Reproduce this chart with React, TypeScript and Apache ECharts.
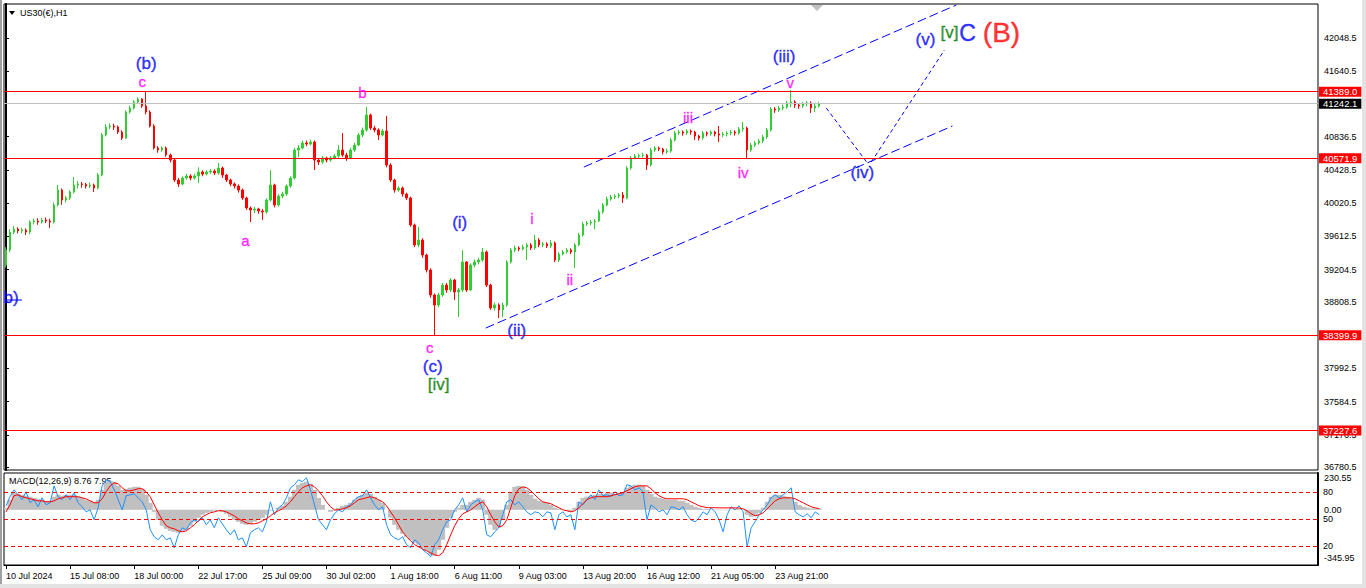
import React, { useEffect, useRef } from 'react';
import * as echarts from 'echarts';

// ---------- data ----------
const timeLabels = ['10 Jul 2024', '15 Jul 08:00', '18 Jul 00:00', '22 Jul 17:00', '25 Jul 09:00', '30 Jul 02:00', '1 Aug 18:00', '6 Aug 11:00', '9 Aug 03:00', '13 Aug 20:00', '16 Aug 12:00', '21 Aug 05:00', '23 Aug 21:00'];
const SLOTS = 328;
const LABEL_EVERY = 16;

const priceTicks = [42048.5, 41640.5, 40836.5, 40428.5, 40020.5, 39612.5, 39204.5, 38808.5, 37992.5, 37584.5, 37176.5, 36780.5];
const priceMin = 36744;
const priceMax = 42466;

const levelPrices = [41389.0, 40571.9, 38399.9, 37227.6];
const bidPrice = 41242.1;

// [open, close, low, high]
const candles = [
  [39261, 39445, 39230, 39480], [39445, 39666, 39420, 39700], [39666, 39703, 39640, 39740], [39703, 39679, 39650, 39725], [39679, 39691, 39650, 39720],
  [39691, 39666, 39629, 39710], [39666, 39789, 39640, 39810], [39789, 39801, 39760, 39830], [39801, 39789, 39755, 39835], [39789, 39814, 39770, 39840],
  [39814, 39801, 39775, 39845], [39801, 39789, 39715, 39830], [39789, 39998, 39770, 40030], [39998, 40182, 39980, 40243], [40182, 40059, 40000, 40200],
  [40059, 40084, 40030, 40110], [40084, 40157, 40060, 40180], [40157, 40243, 40140, 40342], [40243, 40256, 40200, 40290], [40256, 40250, 40210, 40280],
  [40250, 40231, 40200, 40270], [40231, 40243, 40205, 40275], [40243, 40206, 40157, 40260], [40206, 40366, 40190, 40390], [40366, 40857, 40350, 40880],
  [40857, 40956, 40840, 40990], [40956, 40968, 40930, 41000], [40968, 40956, 40920, 40995], [40956, 40894, 40870, 40975], [40894, 40820, 40796, 40915],
  [40820, 41140, 40810, 41160], [41140, 41189, 41120, 41220], [41189, 41262, 41170, 41285], [41262, 41299, 41240, 41320], [41299, 41213, 41190, 41310],
  [41213, 41140, 41110, 41389], [41140, 40968, 40950, 41160], [40968, 40698, 40680, 40990], [40698, 40673, 40640, 40720], [40673, 40698, 40650, 40720],
  [40698, 40612, 40590, 40715], [40612, 40550, 40520, 40630], [40550, 40305, 40280, 40565], [40305, 40256, 40220, 40330], [40256, 40329, 40240, 40350],
  [40329, 40354, 40310, 40380], [40354, 40329, 40300, 40375], [40329, 40354, 40310, 40380], [40354, 40403, 40268, 40460], [40403, 40378, 40350, 40425],
  [40378, 40403, 40360, 40425], [40403, 40415, 40380, 40440], [40415, 40391, 40365, 40435], [40391, 40452, 40370, 40513], [40452, 40366, 40330, 40470],
  [40366, 40305, 40280, 40380], [40305, 40256, 40230, 40320], [40256, 40231, 40200, 40275], [40231, 40182, 40150, 40250], [40182, 40084, 40060, 40200],
  [40084, 39961, 39940, 40100], [39961, 39936, 39789, 39980], [39936, 39949, 39900, 39975], [39949, 39924, 39890, 39965], [39924, 39912, 39814, 39950],
  [39912, 40059, 39890, 40080], [40059, 40243, 40040, 40428], [40243, 39998, 39970, 40260], [39998, 40108, 39980, 40130], [40108, 40133, 40080, 40160],
  [40133, 40231, 40110, 40250], [40231, 40329, 40210, 40350], [40329, 40673, 40310, 40700], [40673, 40698, 40587, 40734], [40698, 40759, 40680, 40790],
  [40759, 40747, 40720, 40790], [40747, 40771, 40730, 40800], [40771, 40550, 40428, 40790], [40550, 40526, 40490, 40570], [40526, 40575, 40500, 40600],
  [40575, 40550, 40520, 40590], [40550, 40575, 40530, 40600], [40575, 40599, 40560, 40625], [40599, 40673, 40580, 40734], [40673, 40612, 40590, 40882],
  [40612, 40575, 40540, 40640], [40575, 40673, 40560, 40700], [40673, 40734, 40650, 40760], [40734, 40857, 40720, 40880], [40857, 40919, 40830, 40950],
  [40919, 41103, 40900, 41201], [41103, 40943, 40920, 41120], [40943, 40919, 40890, 40970], [40919, 40857, 40796, 40940], [40857, 40906, 40840, 40930],
  [40906, 40489, 40460, 41091], [40489, 40305, 40280, 40510], [40305, 40182, 40150, 40320], [40182, 40206, 40160, 40230], [40206, 40133, 40100, 40225],
  [40133, 40084, 40059, 40150], [40084, 39752, 39730, 40100], [39752, 39507, 39480, 39770], [39507, 39568, 39480, 39728], [39568, 39384, 39350, 39590],
  [39384, 39200, 39170, 39400], [39200, 38893, 38860, 39220], [38893, 38770, 38399.9, 38910], [38770, 38893, 38740, 38920], [38893, 39015, 38870, 39040],
  [39015, 38954, 38920, 39040], [38954, 39077, 38930, 39100], [39077, 38930, 38831, 39090], [38930, 38954, 38623, 38980], [38954, 39298, 38930, 39445],
  [39298, 38954, 38930, 39310], [38954, 39261, 38940, 39280], [39261, 39298, 39230, 39330], [39298, 39322, 39270, 39350], [39322, 39421, 39300, 39470],
  [39421, 39015, 38990, 39440], [39015, 38733, 38710, 39030], [38733, 38770, 38700, 38800], [38770, 38709, 38610, 38790], [38709, 38770, 38620, 38800],
  [38770, 39298, 38750, 39320], [39298, 39445, 39280, 39470], [39445, 39470, 39420, 39500], [39470, 39457, 39430, 39490], [39457, 39482, 39440, 39510],
  [39482, 39507, 39322, 39530], [39507, 39470, 39445, 39530], [39470, 39568, 39450, 39629], [39568, 39507, 39480, 39590], [39507, 39519, 39480, 39545],
  [39519, 39494, 39470, 39540], [39494, 39531, 39470, 39568], [39531, 39322, 39296, 39550], [39322, 39396, 39300, 39420], [39396, 39421, 39380, 39445],
  [39421, 39445, 39400, 39470], [39445, 39421, 39395, 39465], [39421, 39507, 39224, 39530], [39507, 39629, 39490, 39655], [39629, 39764, 39610, 39790],
  [39764, 39777, 39740, 39800], [39777, 39789, 39750, 39815], [39789, 39801, 39700, 39825], [39801, 39912, 39790, 39940], [39912, 39998, 39890, 40022],
  [39998, 40071, 39980, 40100], [40071, 40096, 40050, 40120], [40096, 40108, 40070, 40130], [40108, 40121, 40080, 40145], [40121, 40084, 40022, 40157],
  [40084, 40452, 40070, 40475], [40452, 40575, 40430, 40600], [40575, 40599, 40560, 40625], [40599, 40605, 40570, 40630], [40605, 40612, 40580, 40640],
  [40612, 40489, 40428, 40625], [40489, 40673, 40470, 40700], [40673, 40698, 40650, 40720], [40698, 40685, 40660, 40715], [40685, 40649, 40620, 40700],
  [40649, 40660, 40625, 40690], [40660, 40796, 40640, 40820], [40796, 40882, 40780, 40905], [40882, 40894, 40860, 40920], [40894, 40882, 40850, 40915],
  [40882, 40906, 40860, 40930], [40906, 40894, 40860, 40925], [40894, 40845, 40796, 40910], [40845, 40820, 40790, 40860], [40820, 40882, 40800, 40905],
  [40882, 40870, 40840, 40900], [40870, 40894, 40850, 40915], [40894, 40870, 40840, 40910], [40870, 40857, 40771, 40968], [40857, 40870, 40830, 40895],
  [40870, 40882, 40840, 40905], [40882, 40894, 40855, 40920], [40894, 40882, 40850, 40915], [40882, 40931, 40860, 40956], [40931, 40943, 40900, 41017],
  [40943, 40673, 40571.9, 40960], [40673, 40734, 40650, 40760], [40734, 40759, 40710, 40785], [40759, 40784, 40740, 40810], [40784, 40833, 40760, 40860],
  [40833, 40919, 40810, 40945], [40919, 41177, 40900, 41200], [41177, 41164, 41130, 41200], [41164, 41189, 41140, 41215], [41189, 41201, 41160, 41230],
  [41201, 41250, 41180, 41275], [41250, 41262, 41200, 41410], [41262, 41226, 41190, 41285], [41226, 41213, 41180, 41245], [41213, 41238, 41190, 41262],
  [41238, 41250, 41210, 41275], [41250, 41189, 41127, 41270], [41189, 41213, 41140, 41240], [41213, 41242.1, 41195, 41265],
];

const macdHist = [
  13, 63, 107, 100, 94, 88, 82, 75, 69, 63, 56, 56, 82, 94, 88, 94, 94, 94, 82, 75,
  63, 56, 50, 63, 125, 169, 182, 176, 150, 125, 132, 138, 144, 144, 132, 94, 44, -13, -63, -100,
  -119, -132, -138, -144, -138, -125, -100, -75, -50, -31, -19, -13, -6, -6, -13, -25, -44, -63, -75, -88,
  -94, -88, -75, -63, -50, -31, -6, 0, 13, 25, 50, 82, 125, 157, 169, 176, 163, 125, 75, 31,
  0, -13, -6, 13, 25, 31, 44, 63, 82, 94, 107, 100, 82, 63, 44, 0, -50, -94, -125, -150,
  -169, -188, -207, -219, -238, -257, -282, -288, -251, -188, -113, -50, -13, 13, 31, 31, 50, 63, 75, 63,
  -31, -94, -125, -113, -63, 31, 113, 144, 150, 144, 125, 94, 69, 56, 50, 44, 31, 13, 6, 0,
  -6, -13, 13, 50, 75, 82, 88, 94, 100, 100, 107, 107, 100, 107, 113, 138, 150, 157, 157, 150,
  125, 100, 82, 75, 69, 63, 63, 63, 56, 56, 44, 31, 19, 13, 6, 5, 2, -2, -3, -2,
  -3, 0, 4, 6, 0, -31, -44, -38, -19, 13, 50, 82, 94, 94, 88, 82, 75, 50, 31, 19,
  13, 8, 9, 8.76,
];

const macdSignal = [
  -13, 31, 88, 94, 82, 75, 69, 63, 56, 56, 50, 50, 56, 69, 75, 82, 82, 82, 82, 75,
  69, 56, 44, 44, 69, 113, 150, 169, 163, 138, 119, 119, 125, 132, 132, 113, 82, 31, -19, -63,
  -100, -113, -119, -132, -138, -132, -113, -94, -69, -44, -31, -19, -13, -6, -6, -13, -25, -38, -56, -69,
  -82, -88, -88, -82, -69, -56, -38, -19, -6, 6, 25, 50, 82, 113, 138, 150, 157, 144, 119, 88,
  50, 19, 0, 0, 6, 13, 25, 44, 63, 69, 75, 82, 75, 63, 50, 25, -13, -50, -94, -138,
  -169, -194, -219, -232, -245, -257, -270, -282, -288, -270, -219, -157, -100, -56, -25, -13, 0, 19, 38, 50,
  19, -31, -75, -107, -100, -63, 13, 88, 132, 144, 138, 119, 94, 69, 50, 44, 38, 25, 13, 0,
  -6, -13, -6, 13, 38, 63, 75, 82, 82, 82, 82, 88, 94, 100, 107, 119, 132, 144, 150, 150,
  150, 132, 107, 88, 75, 69, 69, 69, 69, 69, 63, 50, 38, 25, 19, 13, 13, 13, 12, 12,
  12, 12, 12, 11, 6, -6, -25, -38, -31, -19, 6, 31, 56, 69, 75, 75, 75, 69, 56, 44,
  31, 19, 12, 7.95,
];

const macdBlue = [
  25, 82, 125, 94, 63, 113, 44, 63, 19, 75, 31, 44, 150, 82, 63, 94, 63, 107, 44, 19,
  -13, 0, -63, 13, 150, 188, 176, 125, 63, 0, 88, 94, 100, 75, 50, 0, -125, -169, -188, -157,
  -188, -176, -238, -157, -113, -125, -82, -63, -75, -50, -94, -63, -113, -50, -88, -125, -157, -125, -188, -176,
  -232, -144, -125, -113, -138, -75, 50, -31, 13, 31, 75, 138, 157, 188, 176, 201, 125, 31, -63, -94,
  -125, -63, -25, 0, -13, 19, 31, 63, 82, 88, 125, 75, 31, 0, 19, -94, -157, -176, -188, -169,
  -219, -238, -188, -207, -251, -270, -295, -219, -188, -125, -75, -63, 0, 31, 75, -13, 31, 50, 63, 0,
  -157, -169, -138, -113, -31, 50, 63, 31, 50, 19, -13, -31, -13, -19, -44, -13, -19, -125, -31, -13,
  -44, -31, -125, 50, 31, 63, 94, 63, 125, 88, 94, 82, 113, 88, 94, 157, 150, 125, 138, 113,
  -63, 31, 13, -13, 0, -31, 19, 13, 0, 19, -31, -63, -75, -50, -13, -31, 13, -13, -63, -138,
  -31, 19, 0, 25, -13, -232, -113, -75, -31, 0, 31, 75, 94, 75, 94, 113, 138, -13, -31, -44,
  -25, -50, -13, -31,
];

const macdMin = -345.95;
const macdMax = 230.55;
const macdLevelValues = [112.9, -56.4, -225.7];
const macdLevelLabels = ['80', '50', '20'];

// Elliott wave annotations (bar index, price)
const waveText = ['(b)', 'c', 'b)', 'a', 'b', 'c', '(c)', '[iv]', '(i)', '(ii)', 'i', 'ii', 'iii', 'iv', 'v', '(iii)', '(iv)', '(v)', '[v]', 'C', '(B)'];
const waveIdx = [35, 34, 1.25, 59.75, 89, 105.75, 106.5, 108, 113.25, 127.5, 131.25, 140.75, 170.25, 184, 195.75, 194.25, 213.75, 229.5, 235.5, 240, 248.5];
const wavePrice = [41730, 41520, 38868, 39568, 41385, 38254, 38021, 37788, 39777, 38463, 39838, 39089, 41078, 40403, 41508, 41827, 40391, 42024, 42110, 42110, 42122];
const waveColor = ['#0000ff', '#ff00ff', '#0000ff', '#ff00ff', '#ff00ff', '#ff00ff', '#0000ff', '#007a00', '#0000ff', '#0000ff', '#ff00ff', '#ff00ff', '#ff00ff', '#ff00ff', '#ff00ff', '#0000ff', '#0000ff', '#0000ff', '#007a00', '#0000ff', '#ff0000'];
const waveSize = [17, 15, 17, 15, 15, 15, 17, 17, 17, 17, 15, 15, 15, 15, 15, 17, 17, 17, 17, 23, 28];

const channelUpper = [[144.25, 40464], [237.25, 42454]];
const channelLower = [[119.75, 38487], [236.25, 40968]];
const projDown = [[204.75, 41189], [215, 40514]];
const projUp = [[216, 40526], [234.25, 41901]];
const bStrike = [[-0.25, 38831], [4, 38831]];

// ---------- option ----------
const FONT = 'Liberation Sans';
const categories = Array.from({ length: SLOTS }, (_, i) =>
  i % LABEL_EVERY === 0 && i / LABEL_EVERY < timeLabels.length ? timeLabels[i / LABEL_EVERY] : ''
);
const showTick = (i: number) => i % LABEL_EVERY === 0 && i / LABEL_EVERY < timeLabels.length;

const dashedLine = (data: number[][], dash: any) => ({
  type: 'line',
  xAxisIndex: 2,
  yAxisIndex: 0,
  data,
  symbol: 'none',
  silent: true,
  lineStyle: { color: '#0000ff', width: 1, type: dash },
  z: 4,
});

const tagLabel = (bg: string, text: string) => ({
  show: true,
  position: 'end',
  distance: 1,
  formatter: text,
  backgroundColor: bg,
  color: '#fff',
  fontSize: 9.5,
  fontFamily: FONT,
  lineHeight: 10,
  padding: [0, 4, 0, 4],
});

const option: any = {
  animation: false,
  backgroundColor: '#fff',
  textStyle: { fontFamily: FONT },
  grid: [
    { left: 4, top: 4, width: 1314, height: 466, show: true, borderColor: '#000', borderWidth: 1 },
    { left: 4, top: 473, width: 1314, height: 92, show: true, borderColor: '#000', borderWidth: 1 },
  ],
  xAxis: [
    {
      type: 'category', gridIndex: 0, data: categories, boundaryGap: true,
      axisLine: { show: false, onZero: false }, axisTick: { show: false }, axisLabel: { show: false }, splitLine: { show: false },
    },
    {
      type: 'category', gridIndex: 1, data: categories, boundaryGap: true,
      axisLine: { show: true, onZero: false, lineStyle: { color: '#000', width: 1 } },
      axisTick: { show: true, interval: (i: number) => showTick(i), alignWithLabel: true, length: 4, lineStyle: { color: '#000' } },
      axisLabel: { interval: (i: number) => showTick(i), align: 'left', margin: 6, fontSize: 9, color: '#000', fontFamily: FONT },
      splitLine: { show: false },
    },
    { type: 'value', gridIndex: 0, min: -0.5, max: SLOTS - 0.5, show: false },
  ],
  yAxis: [
    {
      type: 'value', gridIndex: 0, position: 'right', min: priceMin, max: priceMax, scale: true,
      axisLine: { show: true, lineStyle: { color: '#000', width: 2 } },
      axisTick: { show: true, length: 3, customValues: priceTicks, lineStyle: { color: '#000' } },
      axisLabel: { customValues: priceTicks, formatter: (v: number) => v.toFixed(1), margin: 6, fontSize: 9, color: '#000', fontFamily: FONT },
      splitLine: { show: false },
    },
    {
      type: 'value', gridIndex: 1, position: 'right', min: macdMin, max: macdMax,
      axisLine: { show: true, lineStyle: { color: '#000', width: 2 } },
      axisTick: { show: false },
      axisLabel: {
        customValues: [200.6, 0, -301],
        formatter: (v: number) => (v > 100 ? macdMax.toFixed(2) : v < -100 ? macdMin.toFixed(2) : '0.00'),
        margin: 6, fontSize: 9, color: '#000', fontFamily: FONT,
      },
      splitLine: { show: false },
    },
  ],
  series: [
    {
      type: 'candlestick',
      xAxisIndex: 0,
      yAxisIndex: 0,
      data: candles,
      barWidth: 2,
      itemStyle: { color: '#32cd32', color0: '#ff0000', borderColor: '#32cd32', borderColor0: '#ff0000', borderWidth: 1 },
      markLine: {
        symbol: 'none',
        silent: true,
        animation: false,
        data: [
          ...levelPrices.map((p) => ({
            yAxis: p,
            lineStyle: { color: '#ff0000', width: 1, type: 'solid' },
            label: tagLabel('#ff0000', p.toFixed(1)),
          })),
          {
            yAxis: bidPrice,
            lineStyle: { color: '#c0c0c0', width: 1, type: 'solid' },
            label: tagLabel('#000000', bidPrice.toFixed(1)),
          },
        ],
      },
      z: 3,
    },
    dashedLine(channelUpper, [9, 4]),
    dashedLine(channelLower, [9, 4]),
    dashedLine(projDown, [4, 3]),
    dashedLine(projUp, [4, 3]),
    dashedLine(bStrike, 'solid'),
    {
      type: 'scatter',
      xAxisIndex: 2,
      yAxisIndex: 0,
      symbolSize: 1,
      itemStyle: { color: 'rgba(0,0,0,0)' },
      silent: true,
      z: 5,
      label: { show: true, position: 'inside', fontFamily: FONT },
      data: waveText.map((t, i) => ({
        value: [waveIdx[i], wavePrice[i]],
        label: {
          formatter: t,
          color: waveColor[i],
          fontSize: waveSize[i],
          lineHeight: waveSize[i],
          fontFamily: FONT,
          textBorderColor: waveColor[i],
          textBorderWidth: 0.4,
        },
      })),
    },
    {
      type: 'bar',
      xAxisIndex: 1,
      yAxisIndex: 1,
      data: macdHist,
      barWidth: 5,
      barGap: '-100%',
      itemStyle: { color: '#c0c0c0' },
      silent: true,
      markLine: {
        symbol: 'none',
        silent: true,
        animation: false,
        data: macdLevelValues.map((v, i) => ({
          yAxis: v,
          lineStyle: { color: '#ff0000', width: 1, type: [4, 3] },
          label: { show: true, position: 'end', distance: 5, formatter: macdLevelLabels[i], color: '#000', fontSize: 9, fontFamily: FONT },
        })),
      },
    },
    {
      type: 'line',
      xAxisIndex: 1,
      yAxisIndex: 1,
      data: macdBlue,
      symbol: 'none',
      silent: true,
      lineStyle: { color: '#1e90ff', width: 1 },
    },
    {
      type: 'line',
      xAxisIndex: 1,
      yAxisIndex: 1,
      data: macdSignal,
      symbol: 'none',
      silent: true,
      lineStyle: { color: '#ff0000', width: 1 },
    },
  ],
  graphic: [
    { type: 'rect', silent: true, shape: { x: 0, y: 0, width: 2, height: 588 }, style: { fill: '#a0a0a0' } },
    { type: 'rect', silent: true, shape: { x: 1362, y: 0, width: 4, height: 588 }, style: { fill: '#e3e3e3' } },
    { type: 'rect', silent: true, shape: { x: 0, y: 584, width: 1366, height: 4 }, style: { fill: '#e3e3e3' } },
    { type: 'polygon', silent: true, shape: { points: [[9, 11], [15, 11], [12, 15]] }, style: { fill: '#000' } },
    { type: 'text', silent: true, left: 20, top: 8, style: { text: 'US30(€),H1', font: `9px "${FONT}"`, fill: '#000' } },
    {
      type: 'text', silent: true, left: 9, top: 476,
      style: { text: `MACD(12,26,9) ${macdHist[macdHist.length - 1].toFixed(2)} ${macdSignal[macdSignal.length - 1].toFixed(2)}`, font: `9px "${FONT}"`, fill: '#000' },
    },
    { type: 'polygon', silent: true, shape: { points: [[811, 5], [823, 5], [817, 11]] }, style: { fill: '#c0c0c0' } },
  ],
};

export default function App() {
  const ref = useRef<HTMLDivElement>(null);
  useEffect(() => {
    document.body.style.margin = '0';
    const chart = echarts.init(ref.current as HTMLDivElement, null, { renderer: 'svg' });
    chart.setOption(option);
    return () => chart.dispose();
  }, []);
  return <div ref={ref} style={{ width: 1366, height: 588, background: '#fff' }} />;
}
